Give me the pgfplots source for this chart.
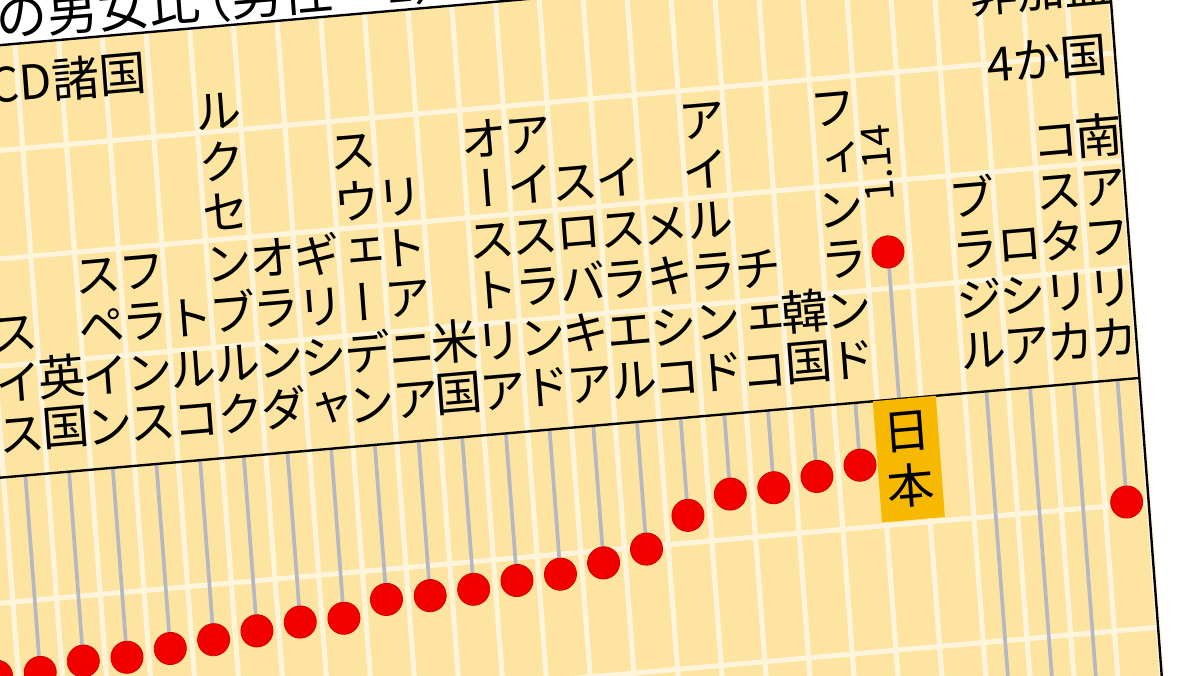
\documentclass[border=0pt]{standalone}
\usepackage{fontspec}
\setmainfont{Noto Sans CJK JP}
\newfontfamily\jpv{Noto Sans CJK JP}[RawFeature=+vert]
\usepackage{pgfplots}
\usepackage{pgfplotstable}
\pgfplotsset{compat=1.18}
\definecolor{bgy}{HTML}{FDE4A0}
\definecolor{gridw}{HTML}{FFF5DC}
\definecolor{stemg}{HTML}{B5B8C3}
\definecolor{dotr}{HTML}{F20000}
\definecolor{jpbox}{HTML}{F6B900}

\pgfplotstableread{
k v
17 1.002
18 1.002
19 1.005
20 1.005
21 1.007
22 1.009
23 1.011
24 1.013
25 1.013
26 1.019
27 1.019
28 1.020
29 1.022
30 1.023
31 1.026
32 1.030
33 1.042
34 1.049
35 1.050
36 1.053
37 1.056
38 1.140
40 0.900
41 0.920
42 0.940
43 1.032
}\ratiodata

\tikzset{tate/.style={anchor=south, inner sep=0pt, align=center,
  font=\jpv\fontsize{18pt}{19.2pt}\selectfont}}

\begin{document}
\begin{tikzpicture}
\begin{scope}
\clip (0,0) rectangle (16cm,9cm);
\fill[white] (0,0) rectangle (16cm,9cm);
\begin{scope}[transform canvas={cm={0.9962,0.0872,-0.0750,0.9972,(0cm,9cm)}}]
\node[anchor=base west, inner sep=0pt, font=\fontsize{19.5pt}{22pt}\selectfont] at (-0.084cm,-0.49cm) {の男女比\kern-0.4em（男性＝1）};
\begin{axis}[
  x=0.58467cm, y=33.3333cm,
  anchor=north east, at={(14.771cm,-0.6cm)},
  xmin=0.5, xmax=43.5, ymin=0.80, ymax=1.25336,
  axis background/.style={fill=bgy},
  axis line style={black, line width=0.9pt},
  xtick={0.5,1.5,...,43.5},
  ytick={0.881,0.931,0.981,1.031,1.1254,1.1682,1.2114},
  xticklabel={}, yticklabel={},
  major tick length=0pt,
  xmajorgrids, ymajorgrids,
  grid style={draw=gridw, line width=1.9pt},
]
% stems from the baseline to each value
\addplot[draw=none, mark=none, forget plot,
  error bars/.cd, y dir=plus, y explicit, error mark=none,
  error bar style={draw=stemg, line width=1.4pt}]
  table[x=k, y=v, y error expr={1.081-\thisrow{v}}] \ratiodata;
% baseline
\draw[black, line width=0.9pt] (axis cs:0.5,1.081) -- (axis cs:43.5,1.081);
% Japan box
\fill[jpbox] (axis cs:37.40,1.0810) rectangle (axis cs:38.84,1.0324);
\node[font=\jpv\fontsize{18pt}{20.8pt}\selectfont, align=center, inner sep=0pt] at (axis cs:38.12,1.0566) {日\\本};
% dots
\addplot[only marks, mark=*, mark size=6.1pt,
  mark options={fill=dotr, draw=dotr!85!black, line width=0.3pt}]
  table[x=k, y=v] \ratiodata;
% value label
\node[rotate=90, inner sep=0pt, font=\fontsize{15pt}{17pt}\selectfont] at (axis cs:37.92,1.1758) {1.14};
% headers
\node[anchor=east, inner sep=0pt, font=\fontsize{18pt}{20pt}\selectfont] at (axis cs:21.46,1.2376) {OECD諸国};
\node[inner sep=0pt, font=\fontsize{18pt}{20pt}\selectfont] at (axis cs:41.92,1.2390) {非加盟};
\node[inner sep=0pt, font=\fontsize{18pt}{20pt}\selectfont] at (axis cs:41.95,1.2110) {4か国};
% country labels
\node[tate] at (axis cs:18,1.0902) {ス\\イ\\ス};
\node[tate] at (axis cs:19,1.0902) {英\\国};
\node[tate] at (axis cs:20,1.0902) {ス\\ペ\\イ\\ン};
\node[tate] at (axis cs:21,1.0902) {フ\\ラ\\ン\\ス};
\node[tate] at (axis cs:22,1.0902) {ト\\ル\\コ};
\node[tate] at (axis cs:23,1.0902) {ル\\ク\\セ\\ン\\ブ\\ル\\ク};
\node[tate] at (axis cs:24,1.0902) {オ\\ラ\\ン\\ダ};
\node[tate] at (axis cs:25,1.0902) {ギ\\リ\\シ\\ャ};
\node[tate] at (axis cs:26,1.0902) {ス\\ウ\\ェ\\ー\\デ\\ン};
\node[tate] at (axis cs:27,1.0902) {リ\\ト\\ア\\ニ\\ア};
\node[tate] at (axis cs:28,1.0902) {米\\国};
\node[tate] at (axis cs:29,1.0902) {オ\\ー\\ス\\ト\\リ\\ア};
\node[tate] at (axis cs:30,1.0902) {ア\\イ\\ス\\ラ\\ン\\ド};
\node[tate] at (axis cs:31,1.0902) {ス\\ロ\\バ\\キ\\ア};
\node[tate] at (axis cs:32,1.0902) {イ\\ス\\ラ\\エ\\ル};
\node[tate] at (axis cs:33,1.0902) {メ\\キ\\シ\\コ};
\node[tate] at (axis cs:34,1.0902) {ア\\イ\\ル\\ラ\\ン\\ド};
\node[tate] at (axis cs:35,1.0902) {チ\\ェ\\コ};
\node[tate] at (axis cs:36,1.0902) {韓\\国};
\node[tate] at (axis cs:37,1.0902) {フ\\ィ\\ン\\ラ\\ン\\ド};
\node[tate] at (axis cs:40,1.0902) {ブ\\ラ\\ジ\\ル};
\node[tate] at (axis cs:41,1.0902) {ロ\\シ\\ア};
\node[tate] at (axis cs:42,1.0902) {コ\\ス\\タ\\リ\\カ};
\node[tate] at (axis cs:43,1.0902) {南\\ア\\フ\\リ\\カ};
\end{axis}
\end{scope}
\end{scope}
\pgfresetboundingbox
\path[use as bounding box] (0,0) rectangle (16cm,9cm);
\end{tikzpicture}
\end{document}
